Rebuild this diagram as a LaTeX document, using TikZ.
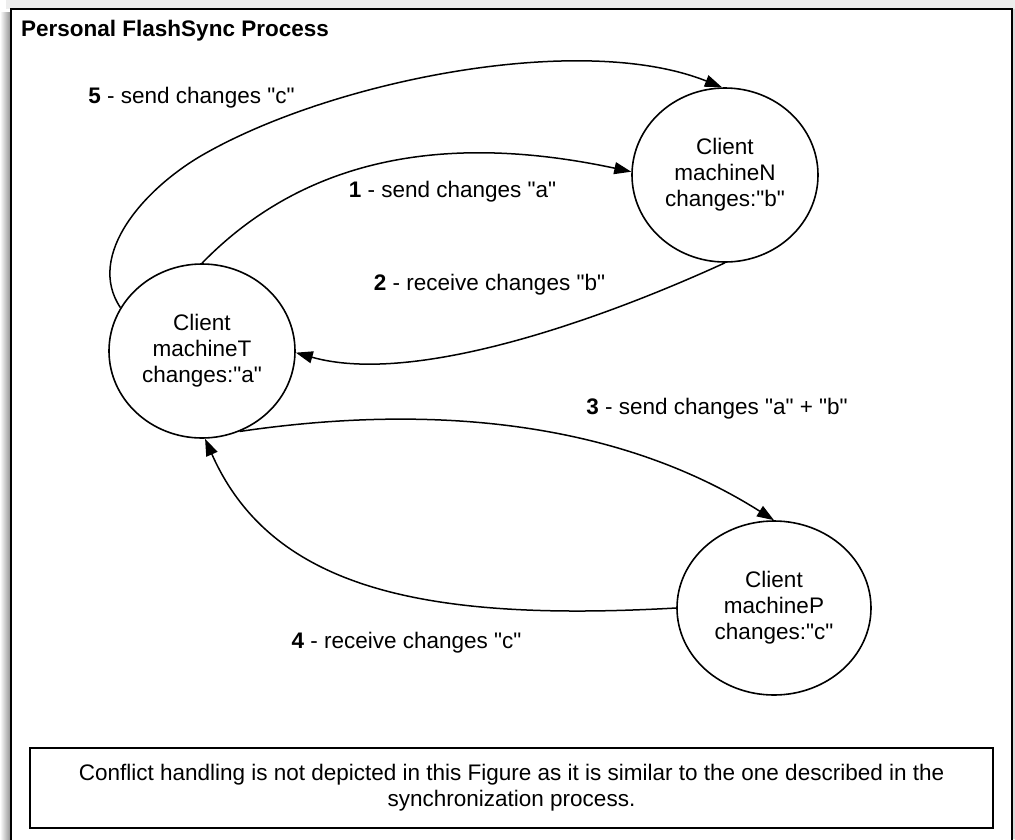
\documentclass[tikz,border=0pt]{standalone}
\usepackage{fontspec}
% own family: keeps straight " quotes (no TeX ligature mapping)
\newfontfamily\arialike{Liberation Sans}
\usetikzlibrary{arrows.meta,shapes.geometric}
\begin{document}
\begin{tikzpicture}[x=1pt,y=-1pt,
  every node/.style={font=\arialike\fontsize{22.5}{26}\selectfont, inner sep=0pt},
  client/.style={draw, ellipse, line width=1.6pt, align=center,
    minimum width=186pt, minimum height=174pt},
  flow/.style={line width=1.5pt, -{Triangle[length=17pt,width=12pt]}},
  frame/.style={line width=2.4pt},
  label/.style={anchor=center}]
\useasboundingbox (0,0) rectangle (1015,839);
\clip (0,0) rectangle (1015,839);

% soft shadow behind the outer frame
\shade[left color=white, right color=black!45] (0,12) rectangle (11,839);
\fill[black!7] (6,0) rectangle (1015,9);
\fill[black!15] (1012,9) rectangle (1015,839);

% outer frame (its lower edge runs past the page)
\draw[frame, fill=white] (11,9) rectangle (1012,850);
\node[anchor=base west, font=\arialike\fontsize{22.5}{26}\selectfont\bfseries] (title) at (21,36) {Personal FlashSync Process};

% clients
\node[client] (T) at (202,351) {Client\\machineT\\changes:"a"};
\node[client] (N) at (725,175) {Client\\machineN\\changes:"b"};
\node[client, minimum width=194pt] (P) at (774,608) {Client\\machineP\\changes:"c"};

% synchronisation steps
\draw[flow] (T.152) .. controls (85,255) and (145,187) .. (206,153)
                    .. controls (336.5,79.5) and (582.5,31.5) .. (N.92);
\draw[flow] (T.90) .. controls (314,148) and (464,136) .. (N.178);
\draw[flow] (N.-90) .. controls (589,325) and (410,385) .. (T.-1);
\draw[flow] (T.-65) .. controls (440,402) and (622,424) .. (P.90);
\draw[flow] (P.180) .. controls (427,622) and (272,590) .. (T.-88);

\node[label] (l5) at (191.5,98) {\textbf{5} - send changes "c"};
\node[label] (l1) at (452.5,192) {\textbf{1} - send changes "a"};
\node[label] (l2) at (489.5,285) {\textbf{2} - receive changes "b"};
\node[label] (l3) at (717,409) {\textbf{3} - send changes "a" + "b"};
\node[label] (l4) at (406.5,643) {\textbf{4} - receive changes "c"};

% note box
\draw[frame, line width=2pt] (30,748) rectangle (993,828);
\node[align=center] (note) at (511.5,788) {Conflict handling is not depicted in this Figure as it is similar to the one described in the\\synchronization process.};
\end{tikzpicture}
\end{document}
